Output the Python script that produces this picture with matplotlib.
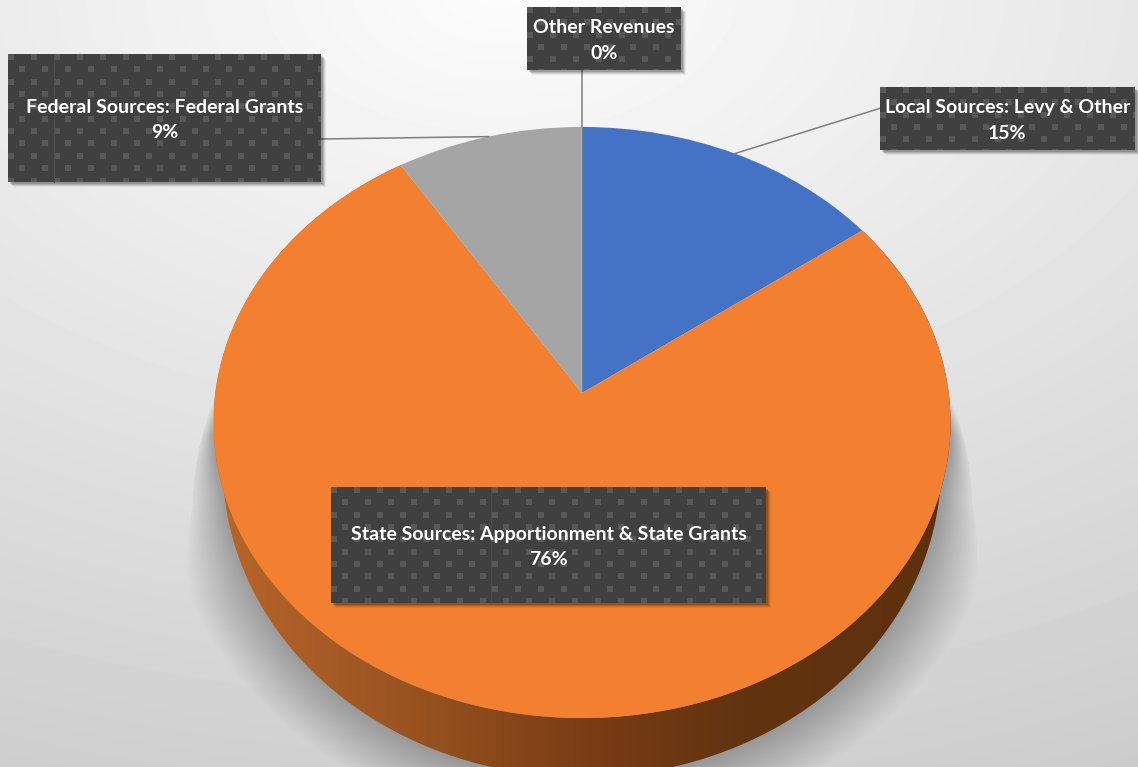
#!/usr/bin/env python3
# -*- coding: utf-8 -*-
import numpy as np
import matplotlib
matplotlib.use('Agg')
import matplotlib.pyplot as plt
from matplotlib.patches import Rectangle, Polygon
from matplotlib.colors import LinearSegmentedColormap
from matplotlib.transforms import Transform

# Revenue shares
categories = ['Local Sources: Levy & Other',
              'State Sources: Apportionment & State Grants',
              'Federal Sources: Federal Grants',
              'Other Revenues']
shares = [15, 76, 9, 0]
slice_colors = ['#4472C4', '#F28030', '#A5A5A5', '#D8C050']

# Label boxes in pixels: left, top, right, bottom, seam position
boxes = [(880, 87, 1135, 150, None),
         (331, 487, 766, 603, 491),
         (8, 54, 321, 182, 54),
         (527, 7, 681, 70, None)]
# Where each leader line leaves its box (None = no leader)
leader_starts = [(881, 108), None, (321, 139), (582, 70)]

W, H = 1138, 767

# Tilted disc geometry
CX, CY = 582, 393
A_X, A_Y, K = 366.7, 292.6, 0.0998
CENTRE_Y = 422.5
# Lower rim of the wall: same ellipse, lowered and a little narrower
WALL_XS, WALL_YS, WALL_YC = 0.975, 1.056, 465


def disc_to_px(u, v):
    w = 1 + K * v
    return CX + A_X * u / w, CY - A_Y * v / w


class TiltedDisc(Transform):
    input_dims = 2
    output_dims = 2

    def transform_non_affine(self, xy):
        xy = np.asarray(xy)
        x, y = disc_to_px(xy[:, 0], xy[:, 1])
        return np.column_stack([x, y])


def angle_to_px(theta):
    t = np.radians(theta)
    return disc_to_px(np.cos(t), np.sin(t))


fig = plt.figure(figsize=(W / 100, H / 100), dpi=100)
ax = fig.add_axes([0, 0, 1, 1])

wedges, _ = ax.pie(shares, colors=slice_colors, startangle=90, counterclock=False)
ax.set_aspect('auto')
ax.set_xlim(0, W)
ax.set_ylim(H, 0)
ax.axis('off')

yy, xx = np.mgrid[0:H, 0:W]

# Page background
dist = np.sqrt((0.6 * (xx - 500)) ** 2 + (yy + 10) ** 2)
bg = np.clip(252 - 0.056 * dist, 0, 255) / 255
ax.imshow(bg, cmap='gray', vmin=0, vmax=1, extent=(0, W, H, 0), zorder=0, aspect='auto')

# Soft shadow under the disc, widening towards the bottom
r_top = np.sqrt(((xx - CX) / 368.0) ** 2 + ((yy - CENTRE_Y) / 295.5) ** 2)
r_low = np.sqrt(((xx - CX) / 359.0) ** 2 + ((yy - WALL_YC) / 312.0) ** 2)
r = np.minimum(r_top, r_low)
limit = 1.005 + np.clip((yy - 400) / 200.0, 0, 1) * 0.17
fade = np.clip((limit - r) / (limit - 1), 0, 1)
# the upper part of the shadow keeps a harder outer edge
hard_edge = 0.12 * (fade > 0) * np.clip((590 - yy) / 120.0, 0, 1)
fade = (fade + hard_edge) * np.clip((yy - 395) / 40.0, 0, 1)
shadow = np.zeros((H, W, 4))
shadow[..., :3] = 0.35
shadow[..., 3] = np.clip(0.48 * fade, 0, 0.48)
ax.imshow(shadow, extent=(0, W, H, 0), zorder=1, aspect='auto')

# Side wall of the big slice, shaded left to right
state = wedges[1]
th = np.linspace(state.theta1, state.theta2, 400)
tx, ty = angle_to_px(th)
bx = CX + (tx - CX) * WALL_XS
by = WALL_YC + (ty - CENTRE_Y) * WALL_YS
wall_pts = np.column_stack([np.r_[tx, bx[::-1]], np.r_[ty, by[::-1]]])
wall_outline = Polygon(wall_pts, closed=True, fc='none', ec='none', zorder=2)
ax.add_patch(wall_outline)
wall_cmap = LinearSegmentedColormap.from_list(
    'wall', [(0, '#B9662A'), (0.3, '#95501F'), (0.5, '#7A3D16'), (0.72, '#62330F'), (1, '#5E300E')])
ramp = np.linspace(0, 1, 512).reshape(1, -1)
wall_img = ax.imshow(ramp, cmap=wall_cmap, extent=(214, 951, H + 60, 0), zorder=2, aspect='auto')
wall_img.set_clip_path(wall_outline)
ax.set_xlim(0, W)
ax.set_ylim(H, 0)

# Top face
for wedge in wedges:
    wedge.set_transform(TiltedDisc() + ax.transData)
    wedge.set_zorder(3)
    wedge.set_clip_on(False)
wedges[3].set_edgecolor(slice_colors[3])
wedges[3].set_linewidth(0.4)

# Leader lines, running to the rim at the middle of each slice
for wedge, start in zip(wedges, leader_starts):
    if start is None:
        continue
    ex, ey = angle_to_px((wedge.theta1 + wedge.theta2) / 2)
    ax.plot([start[0], ex], [start[1], ey], color='#7F7F7F', lw=1.1, zorder=4)

# Label boxes with a dotted fill
for (left, top, right, bottom, seam), name, share in zip(boxes, categories, shares):
    for off, alpha in [(6, 0.06), (5, 0.09), (4, 0.12), (3, 0.16)]:
        ax.add_patch(Rectangle((left + off - 1, top + off - 1), right - left, bottom - top,
                               fc='black', ec='none', alpha=alpha, zorder=5))
    box = Rectangle((left, top), right - left, bottom - top, fc='#404040', ec='none', zorder=6)
    ax.add_patch(box)
    row = 0
    for dy in np.arange(top, bottom, 12.35):
        shift = 0 if row % 2 == 0 else 11.5
        for dx in np.arange(left + shift, right, 23):
            dot = Rectangle((dx, dy), 6, 6, fc='#585858', ec='none', zorder=7)
            ax.add_patch(dot)
            dot.set_clip_path(box)
        row += 1
    if seam is not None:
        ax.plot([seam, seam], [top, bottom], color='#4E4E4E', lw=0.8, zorder=7)
    ax.text((left + right) / 2, (top + bottom) / 2 + 2, '%s\n%d%%' % (name, share),
            color='white', ha='center', va='center', fontsize=14, fontfamily='Lato',
            fontweight='bold', linespacing=1.63, zorder=8)

fig.savefig('out.png', dpi=100)
